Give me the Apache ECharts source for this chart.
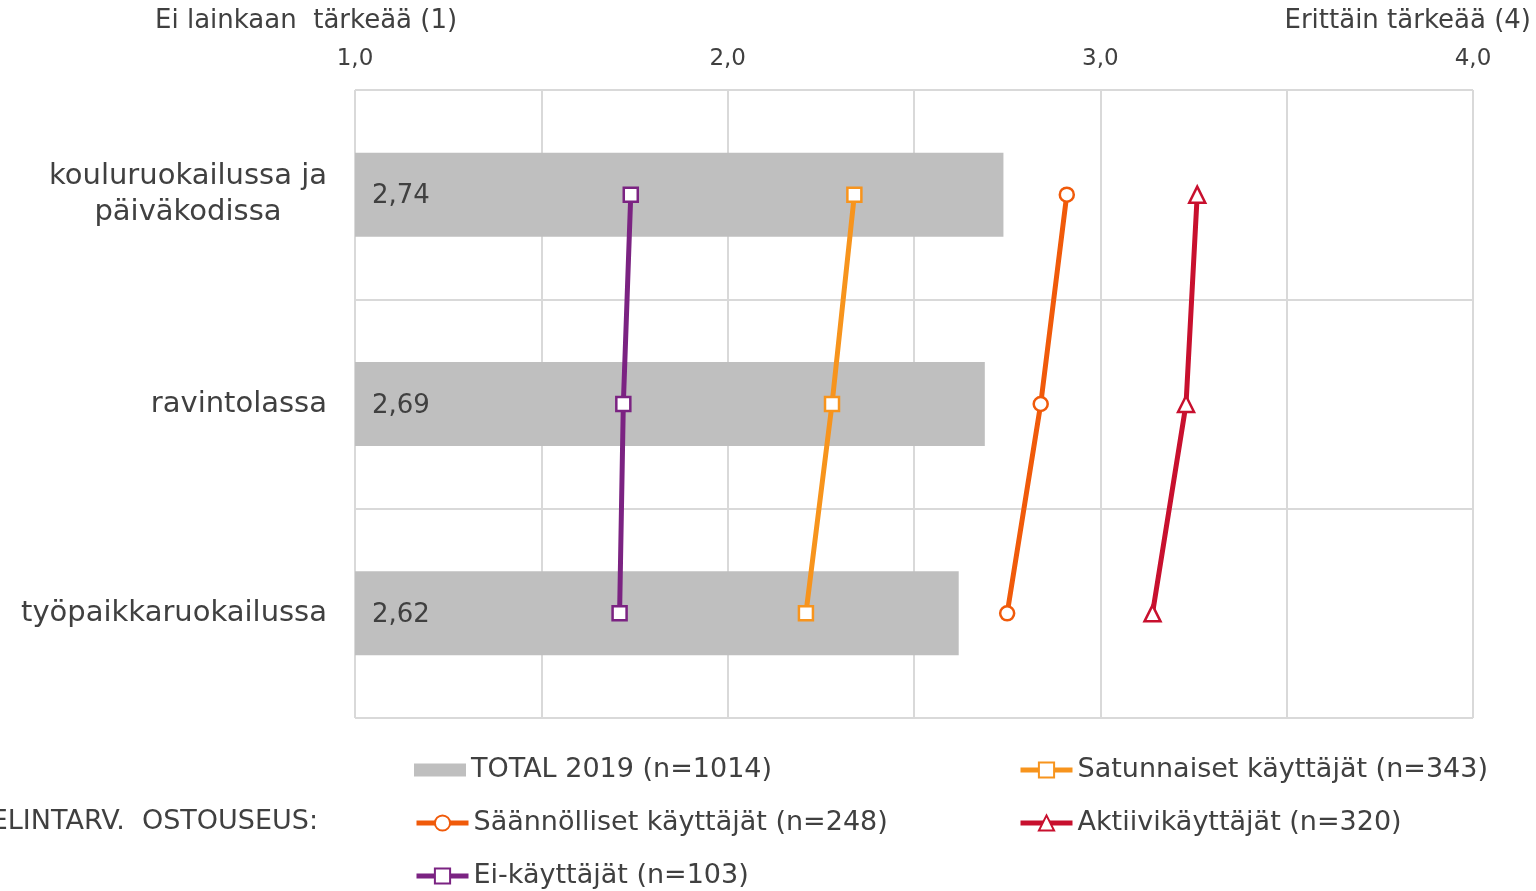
<!DOCTYPE html>
<html>
<head>
<meta charset="utf-8">
<script src="https://cdn.jsdelivr.net/npm/echarts@6/dist/echarts.min.js"></script>
<style>html,body{margin:0;padding:0;background:#fff}#c{width:1536px;height:891px}</style>
</head>
<body>
<div id="c"></div>
<script>
const categories = ['kouluruokailussa ja\npäiväkodissa', 'ravintolassa', 'työpaikkaruokailussa'];
const totalName = 'TOTAL 2019 (n=1014)';
const total2019 = [2.74, 2.69, 2.62];
const satunnaisetName = 'Satunnaiset käyttäjät (n=343)';
const satunnaiset = [2.34, 2.28, 2.21];
const saannollisetName = 'Säännölliset käyttäjät (n=248)';
const saannolliset = [2.91, 2.84, 2.75];
const aktiiviName = 'Aktiivikäyttäjät (n=320)';
const aktiivi = [3.26, 3.23, 3.14];
const eiName = 'Ei-käyttäjät (n=103)';
const eiKayttajat = [1.74, 1.72, 1.71];
const tickLabels = {1: '1,0', 2: '2,0', 3: '3,0', 4: '4,0'};

const FONT = '"DejaVu Sans", Verdana, sans-serif';
const TXT = '#404040';

const C_SAT = '#f7941d', C_SAA = '#f05a0a', C_AKT = '#c8102e', C_EI = '#7b2382';

function lineSeries(name, data, color, symbol) {
  return {
    name, type: 'line', data,
    symbol, symbolSize: symbol === 'triangle' ? 16 : 14,
    lineStyle: {color, width: 5},
    itemStyle: {color: '#fff', borderColor: color, borderWidth: 2.5},
    z: 5
  };
}

function legendAt(left, top, name) {
  return {
    left, top, padding: 0, itemWidth: 52, itemHeight: 19,
    data: [name],
    lineStyle: {width: 5},
    textStyle: {fontFamily: FONT, fontSize: 27, color: TXT, lineHeight: 28}
  };
}

const chart = echarts.init(document.getElementById('c'));
chart.setOption({
  animation: false,
  textStyle: {fontFamily: FONT},
  grid: {left: 355, right: 63, top: 90, bottom: 173, containLabel: false},
  title: [
    {text: 'Ei lainkaan  tärkeää (1)', left: 155, top: 8, padding: 0,
     textStyle: {fontFamily: FONT, fontSize: 26, fontWeight: 'normal', color: TXT}},
    {text: 'Erittäin tärkeää (4)', right: 5, top: 8, padding: 0,
     textStyle: {fontFamily: FONT, fontSize: 26, fontWeight: 'normal', color: TXT}}
  ],
  xAxis: {
    type: 'value', position: 'top', min: 1, max: 4, interval: 0.5,
    axisLine: {show: false}, axisTick: {show: false},
    axisLabel: {
      fontFamily: FONT, fontSize: 23, color: TXT, margin: 19,
      formatter: v => tickLabels[v] || ''
    },
    splitLine: {lineStyle: {color: '#d9d9d9', width: 2}}
  },
  yAxis: {
    type: 'category', data: categories, inverse: true,
    axisLine: {show: false}, axisTick: {show: false},
    axisLabel: {
      fontFamily: FONT, fontSize: 29, color: TXT, margin: 28, align: 'right',
      formatter: v => v.indexOf('\n') >= 0 ? v.split('\n').map(s => '{c|' + s + '}').join('\n') : v,
      rich: {c: {fontFamily: FONT, fontSize: 29, color: TXT, width: 278, align: 'center', lineHeight: 36}}
    },
    splitLine: {show: true, lineStyle: {color: '#d9d9d9', width: 2}}
  },
  legend: [
    Object.assign(legendAt(414, 756, totalName), {data: [{name: totalName, icon: 'rect'}], itemHeight: 13}),
    legendAt(414, 809, saannollisetName),
    legendAt(414, 862, eiName),
    legendAt(1018, 756, satunnaisetName),
    legendAt(1018, 809, aktiiviName)
  ],
  graphic: [
    {type: 'text', right: 1536 - 318, top: 808,
     style: {text: 'ELINTARV.  OSTOUSEUS:', font: '27px ' + FONT, fill: TXT}}
  ],
  series: [
    {
      name: totalName, type: 'bar', data: total2019, barWidth: 84,
      itemStyle: {color: '#bfbfbf'},
      label: {show: true, position: 'insideLeft', offset: [12, 2], fontFamily: FONT, fontSize: 26, color: TXT,
        formatter: p => p.value.toFixed(2).replace('.', ',')},
      z: 2
    },
    lineSeries(satunnaisetName, satunnaiset, C_SAT, 'rect'),
    lineSeries(saannollisetName, saannolliset, C_SAA, 'circle'),
    lineSeries(aktiiviName, aktiivi, C_AKT, 'triangle'),
    lineSeries(eiName, eiKayttajat, C_EI, 'rect')
  ]
});
</script>
</body>
</html>
